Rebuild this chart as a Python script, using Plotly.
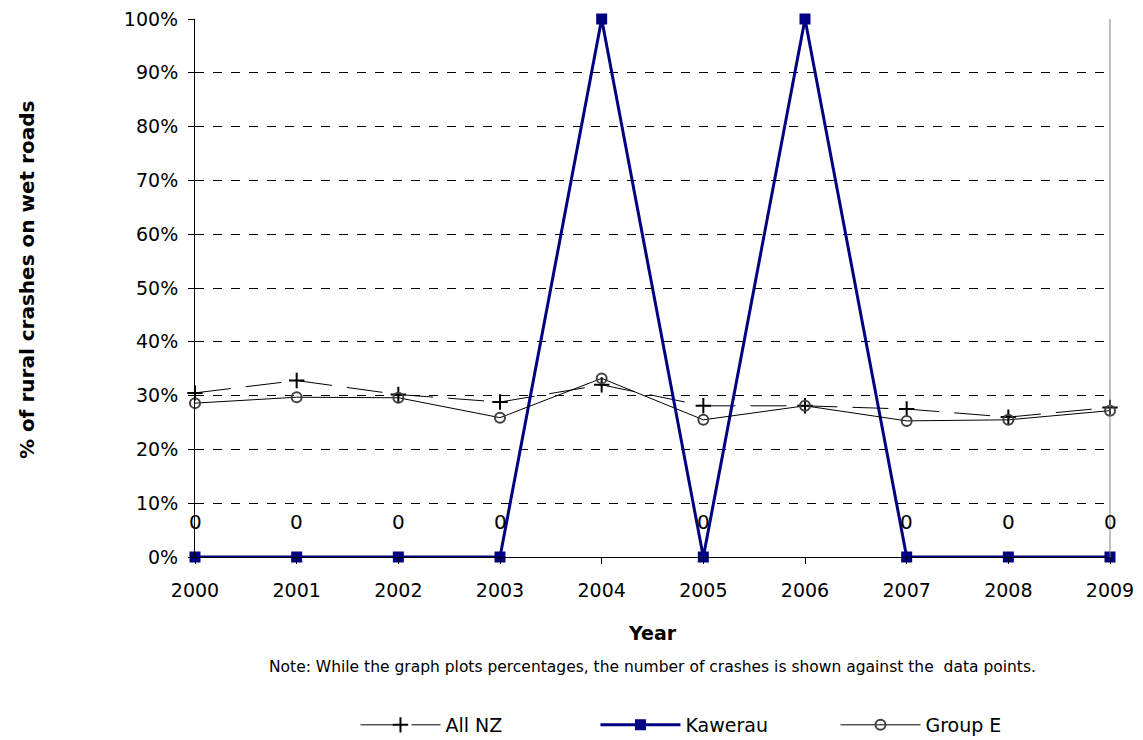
import plotly.graph_objects as go

years = [2000, 2001, 2002, 2003, 2004, 2005, 2006, 2007, 2008, 2009]
all_nz = [0.305, 0.328, 0.302, 0.288, 0.320, 0.281, 0.281, 0.275, 0.260, 0.278]
kawerau = [0.0, 0.0, 0.0, 0.0, 1.0, 0.0, 1.0, 0.0, 0.0, 0.0]
group_e = [0.286, 0.297, 0.296, 0.259, 0.332, 0.255, 0.281, 0.253, 0.255, 0.272]
kawerau_counts = ["0", "0", "0", "0", None, "0", None, "0", "0", "0"]

FONT = "DejaVu Sans, Liberation Sans, Arial, sans-serif"

fig = go.Figure()
fig.add_trace(go.Scatter(
    x=years, y=all_nz, name="All NZ", mode="lines+markers",
    line=dict(color="black", width=1, dash="36px,15px"),
    marker=dict(symbol="cross-thin", size=11, line=dict(color="black", width=2)),
    cliponaxis=False,
))
fig.add_trace(go.Scatter(
    x=years, y=kawerau, name="Kawerau", mode="lines+markers",
    line=dict(color="#000080", width=3),
    marker=dict(symbol="square", size=11, color="#000080"),
    cliponaxis=False,
))
fig.add_trace(go.Scatter(
    x=years, y=group_e, name="Group E", mode="lines+markers",
    line=dict(color="black", width=1),
    marker=dict(symbol="circle-open", size=10, color="#404040", line=dict(width=2)),
    cliponaxis=False,
))

for x, y, t in zip(years, kawerau, kawerau_counts):
    if t is not None:
        fig.add_annotation(x=x, y=y, text=t, showarrow=False, yshift=35,
                           font=dict(family=FONT, size=20, color="black"))

fig.add_annotation(xref="paper", yref="paper", x=-0.1836, y=0.515,
                   xanchor="center", yanchor="middle",
                   text="<b>% of rural crashes on wet roads</b>", textangle=-90,
                   showarrow=False, font=dict(family=FONT, size=20, color="black"))
fig.add_annotation(xref="paper", yref="paper", x=0.5, y=-0.141,
                   xanchor="center", yanchor="middle",
                   text="<b>Year</b>", showarrow=False,
                   font=dict(family=FONT, size=19, color="black"))
fig.add_annotation(xref="paper", yref="paper", x=0.5, y=-0.204,
                   xanchor="center", yanchor="middle",
                   text="Note: While the graph plots percentages, the number of crashes is shown against the  data points.",
                   showarrow=False, font=dict(family=FONT, size=15.5, color="black"))

fig.add_shape(type="line", xref="paper", yref="paper", x0=1, x1=1, y0=0, y1=1,
              line=dict(color="#808080", width=1))

fig.update_layout(
    width=1143, height=740,
    margin=dict(l=195, r=33, t=19, b=183, autoexpand=False),
    paper_bgcolor="white", plot_bgcolor="white",
    font=dict(family=FONT, size=19, color="black"),
    showlegend=True,
    legend=dict(orientation="h", xref="container", yref="container",
                x=0.311, xanchor="left", y=0.0203, yanchor="middle",
                font=dict(family=FONT, size=19), itemwidth=80,
                entrywidth=145, entrywidthmode="pixels", traceorder="normal"),
    xaxis=dict(range=[2000, 2009], tickvals=years, ticks="outside", ticklen=6,
               tickangle=0, tickcolor="black", showline=True, linecolor="black",
               linewidth=1, showgrid=False, zeroline=False, tickfont=dict(size=19),
               ticklabelstandoff=10),
    yaxis=dict(range=[0, 1], tickvals=[i / 10 for i in range(11)], tickformat=".0%",
               ticks="outside", ticklen=6, tickcolor="black", showline=True,
               linecolor="black", linewidth=1, showgrid=True, gridcolor="black",
               griddash="dash", gridwidth=1, zeroline=False, tickfont=dict(size=19),
               ticklabelstandoff=6),
)

fig.write_html("out.html", config={"displayModeBar": False},
               post_script="document.body.style.margin='0';")
